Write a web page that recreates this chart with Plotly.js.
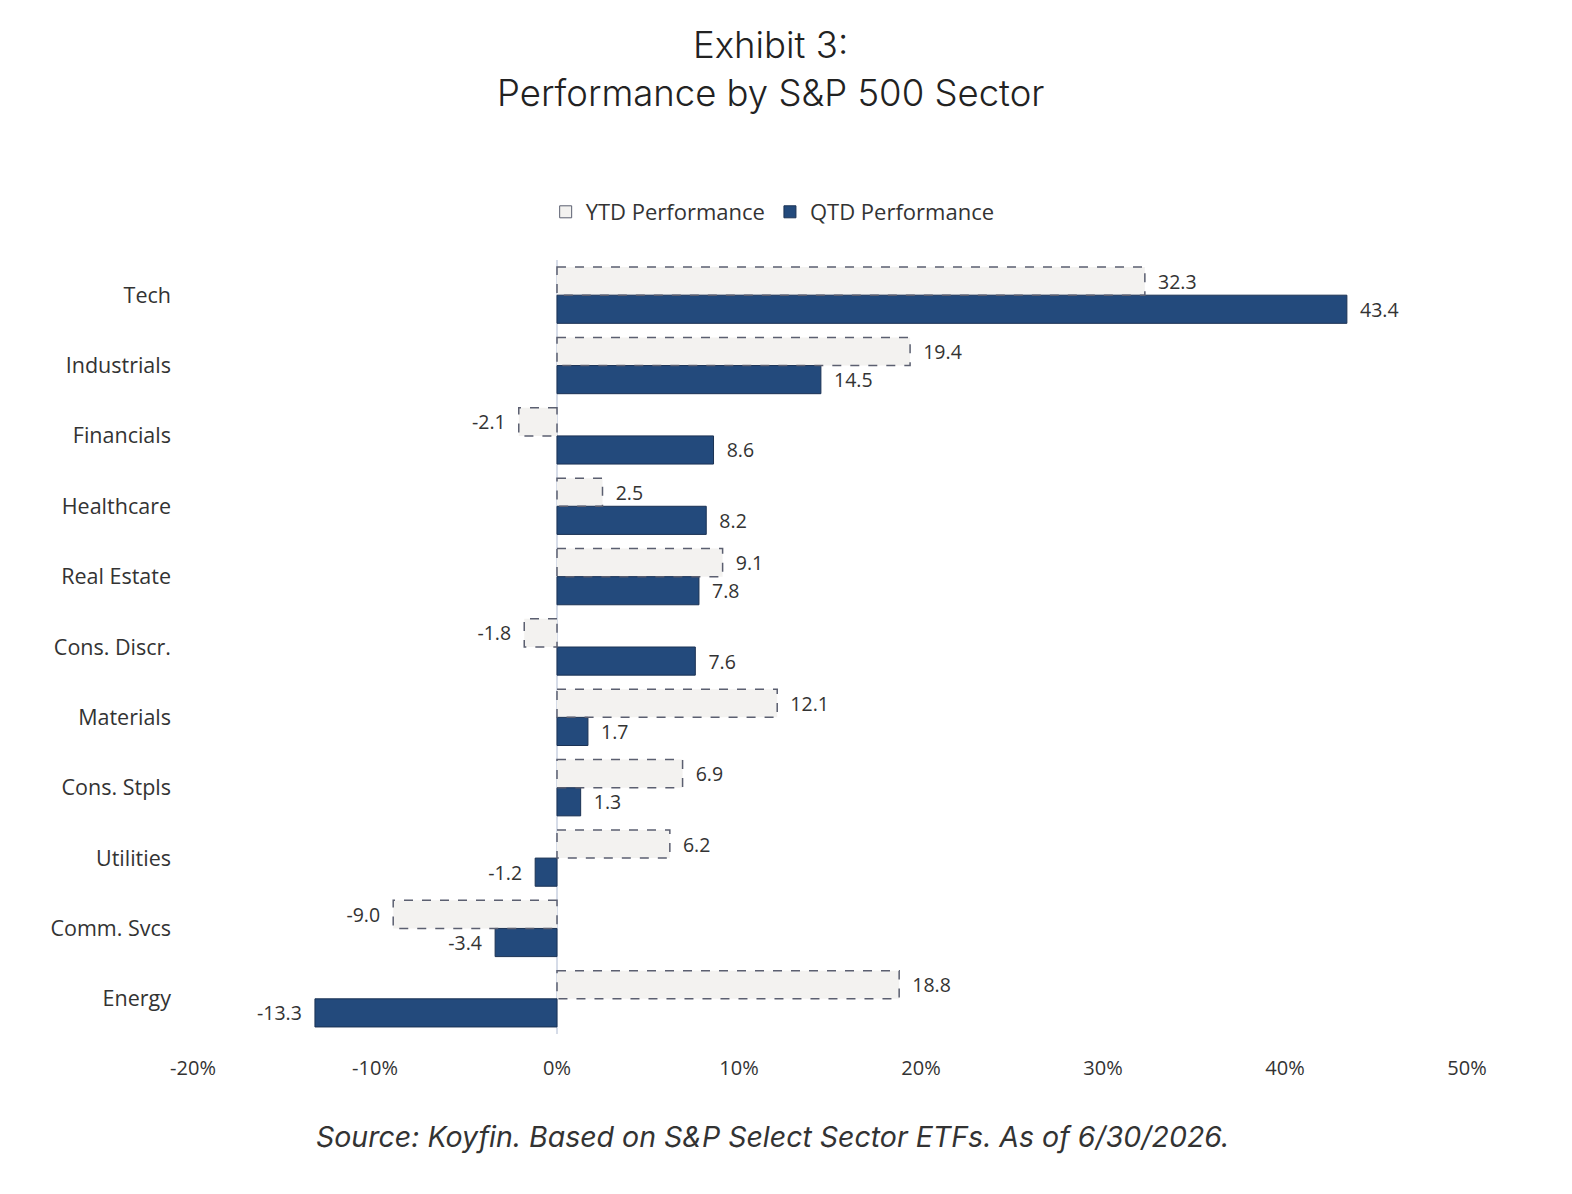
<!DOCTYPE html>
<html>
<head>
<meta charset="utf-8">
<script src="https://cdn.plot.ly/plotly-3.0.1.min.js"></script>
<style>
  html, body { margin: 0; padding: 0; background: #ffffff; }
  #chart { width: 1572px; height: 1194px; }
</style>
</head>
<body>
<div id="chart"></div>
<script>
const sectors = ["Tech", "Industrials", "Financials", "Healthcare", "Real Estate", "Cons. Discr.", "Materials", "Cons. Stpls", "Utilities", "Comm. Svcs", "Energy"];
const ytd = [32.3, 19.4, -2.1, 2.5, 9.1, -1.8, 12.1, 6.9, 6.2, -9.0, 18.8];
const qtd = [43.4, 14.5, 8.6, 8.2, 7.8, 7.6, 1.7, 1.3, -1.2, -3.4, -13.3];
const xTickVals = [-20, -10, 0, 10, 20, 30, 40, 50];
const xTickText = ["-20%", "-10%", "0%", "10%", "20%", "30%", "40%", "50%"];

const pad = "\u00a0\u00a0";
function label(v) { const s = v.toFixed(1); return v < 0 ? s + pad : pad + s; }

const ytdFill = "#f3f2f0";
const ytdEdge = "#5b5f70";
const qtdFill = "#234a7c";
const qtdEdge = "#1b3254";
const labelFont = { family: "Open Sans, Noto Sans, sans-serif", size: 19.5, color: "#333333" };

const traces = [
  {
    type: "bar", orientation: "h", name: "YTD Performance", showlegend: false,
    y: sectors, x: ytd, width: 0.4, offset: -0.4,
    marker: { color: ytdFill, line: { width: 0 } },
    text: ytd.map(label), textposition: "outside", textfont: labelFont,
    cliponaxis: false, hoverinfo: "x+y"
  },
  {
    type: "bar", orientation: "h", name: "YTD Performance", showlegend: true,
    y: [null], x: [null], width: 0.4, offset: -0.4,
    marker: { color: ytdFill, line: { color: ytdEdge, width: 1 } }
  },
  {
    type: "bar", orientation: "h", name: "QTD Performance",
    y: sectors, x: qtd, width: 0.4, offset: 0,
    marker: { color: qtdFill, line: { color: qtdEdge, width: 1 } },
    text: qtd.map(label), textposition: "outside", textfont: labelFont,
    cliponaxis: false, hoverinfo: "x+y"
  }
];

const shapes = ytd.map((v, i) => ({
  type: "rect", xref: "x", yref: "y", layer: "above",
  x0: 0, x1: v, y0: i - 0.4, y1: i,
  line: { color: ytdEdge, width: 1.5, dash: "dash" },
  fillcolor: "rgba(0,0,0,0)"
}));

const titleFont = { family: "Inter, Noto Sans, sans-serif", size: 36.5, color: "#222222", weight: 300 };

const layout = {
  width: 1572, height: 1194,
  paper_bgcolor: "#ffffff", plot_bgcolor: "#ffffff",
  margin: { l: 193, r: 105, t: 260, b: 160 },
  barmode: "group",
  showlegend: true,
  legend: {
    orientation: "h", x: 0.455, xanchor: "center", y: 1.062, yanchor: "middle",
    font: { family: "Open Sans, Noto Sans, sans-serif", size: 22, color: "#333333" },
    traceorder: "normal", itemclick: false, itemdoubleclick: false
  },
  xaxis: {
    range: [-20, 50], tickvals: xTickVals, ticktext: xTickText,
    showgrid: false, zeroline: true, zerolinecolor: "#d6dce8", zerolinewidth: 1.5,
    showline: false, ticks: "", ticklabelstandoff: 20,
    tickfont: { family: "Open Sans, Noto Sans, sans-serif", size: 20, color: "#333333" },
    fixedrange: true
  },
  yaxis: {
    type: "category", autorange: "reversed",
    showgrid: false, zeroline: false, showline: false, ticks: "",
    ticklabelstandoff: 21,
    tickfont: { family: "Open Sans, Noto Sans, sans-serif", size: 21.5, color: "#333333" },
    fixedrange: true
  },
  shapes: shapes,
  annotations: [
    {
      text: "Exhibit 3:", xref: "paper", yref: "paper", x: 0.4536, y: 1.2778,
      xanchor: "center", yanchor: "middle", showarrow: false, font: titleFont
    },
    {
      text: "Performance by S&P 500 Sector", xref: "paper", yref: "paper", x: 0.4536, y: 1.2158,
      xanchor: "center", yanchor: "middle", showarrow: false, font: titleFont
    },
    {
      text: "<i>Source: Koyfin. Based on S&P Select Sector ETFs. As of 6/30/2026.</i>",
      xref: "paper", yref: "paper", x: 0.4548, y: -0.133, xanchor: "center", yanchor: "middle",
      showarrow: false,
      font: { family: "Inter, Noto Sans, sans-serif", size: 28.5, color: "#333333" }
    }
  ]
};

Plotly.newPlot("chart", traces, layout, { displayModeBar: false, staticPlot: true });
</script>
</body>
</html>
